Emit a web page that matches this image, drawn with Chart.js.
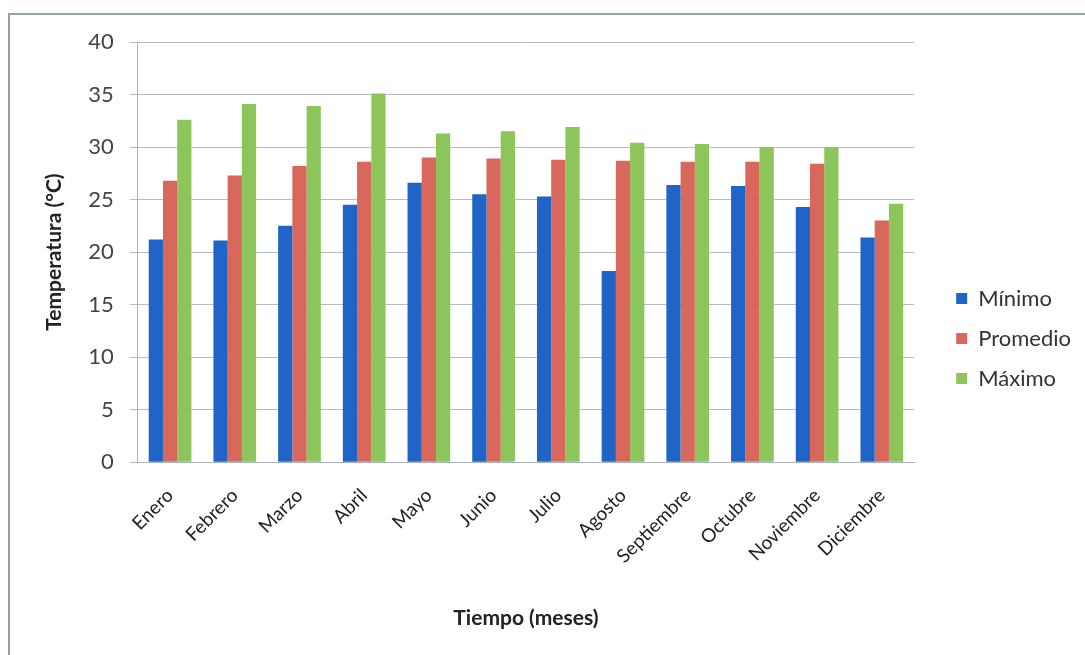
<!DOCTYPE html>
<html>
<head>
<meta charset="utf-8">
<script src="https://cdn.jsdelivr.net/npm/chart.js@4.4.1/dist/chart.umd.min.js"></script>
<style>
  body { margin: 0; background: #fff; }
  #marco {
    position: absolute; left: 8px; top: 13px; width: 1200px; height: 800px;
    border-left: 2px solid #8fa4a8; border-top: 2px solid #8fa4a8;
  }
  #tempChart { position: absolute; left: 0; top: 0; }
</style>
</head>
<body>
<div id="marco"></div>
<canvas id="tempChart" width="1085" height="655"></canvas>
<script>
const meses = ['Enero', 'Febrero', 'Marzo', 'Abril', 'Mayo', 'Junio', 'Julio', 'Agosto', 'Septiembre', 'Octubre', 'Noviembre', 'Diciembre'];
const minimo   = [21.2, 21.1, 22.5, 24.5, 26.6, 25.5, 25.3, 18.2, 26.4, 26.3, 24.3, 21.4];
const promedio = [26.8, 27.3, 28.2, 28.6, 29.0, 28.9, 28.8, 28.7, 28.6, 28.6, 28.4, 23.0];
const maximo   = [32.6, 34.1, 33.9, 35.1, 31.3, 31.5, 31.9, 30.4, 30.3, 30.0, 30.0, 24.6];
const ticksY = [0, 5, 10, 15, 20, 25, 30, 35, 40];

const fuente = "Lato, 'Open Sans', sans-serif";
const ctxTemp = document.getElementById('tempChart').getContext('2d');

// Gráfico de barras de temperaturas mensuales
const tempChart = new Chart(ctxTemp, {
    type: 'bar',
    data: {
        labels: meses,
        datasets: [{
            label: 'Mínimo',
            data: minimo,
            backgroundColor: '#1f64c6'
        }, {
            label: 'Promedio',
            data: promedio,
            backgroundColor: '#d8675c'
        }, {
            label: 'Máximo',
            data: maximo,
            backgroundColor: '#8cc65a'
        }]
    },
    options: {
        responsive: false,
        animation: false,
        datasets: {
            bar: { categoryPercentage: 0.66, barPercentage: 1.0 }
        },
        layout: { padding: { left: 42, top: 42, right: 4, bottom: 20 } },
        plugins: {
            tooltip: { enabled: false },
            legend: {
                position: 'right',
                labels: {
                    boxWidth: 11, boxHeight: 11, padding: 18,
                    color: '#333', font: { family: fuente, size: 22 }
                }
            }
        },
        scales: {
            x: {
                grid: { display: false },
                border: { color: '#a8b4c0' },
                ticks: {
                    minRotation: 45, maxRotation: 45, padding: 14,
                    color: '#222', font: { family: fuente, size: 19 }
                },
                title: {
                    display: true, text: 'Tiempo (meses)', color: '#222',
                    font: { family: fuente, size: 21, weight: 'bold' },
                    padding: { top: 24 }
                }
            },
            y: {
                min: 0, max: 40,
                afterBuildTicks: (axis) => { axis.ticks = ticksY.map(v => ({ value: v })); },
                grid: { color: '#b4bcc8', tickLength: 8 },
                border: { color: '#a8b4c0' },
                ticks: {
                    padding: 16,
                    color: '#444', font: { family: fuente, size: 22 }
                },
                title: {
                    display: true, text: 'Temperatura (°C)', color: '#222',
                    font: { family: fuente, size: 21, weight: 'bold' },
                    padding: { top: 0, bottom: 5 }
                }
            },
            // eje vacío que deja espacio entre el área de barras y la leyenda
            hueco: {
                position: 'right',
                grid: { display: false },
                border: { display: false },
                ticks: { display: false },
                afterFit: (axis) => { axis.width = 24; }
            }
        }
    }
});
</script>
</body>
</html>
